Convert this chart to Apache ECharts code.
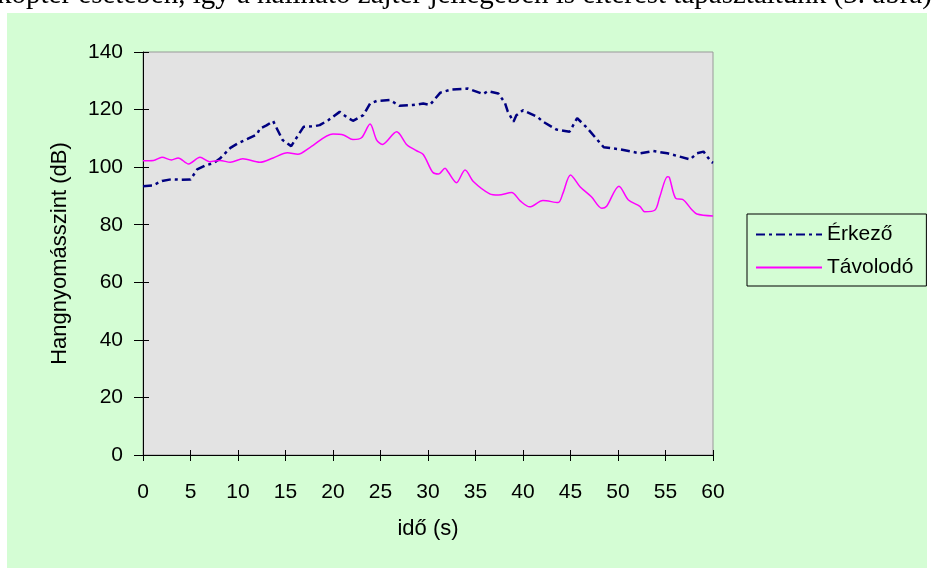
<!DOCTYPE html>
<html>
<head>
<meta charset="utf-8">
<script src="https://cdn.jsdelivr.net/npm/echarts@6/dist/echarts.min.js"></script>
<style>
  html, body { margin: 0; padding: 0; background: #fff; }
  #chart { width: 932px; height: 570px; }
</style>
</head>
<body>
<div id="chart"></div>
<script>
// Érkező (arriving) - time (s) and level (dB)
const erkezoT = [0, 1, 2, 3, 4, 5, 5.7, 6.5, 7.5, 8.1, 9.2, 10, 11, 12, 12.3, 13, 13.7, 14.7, 15.6, 16.9,
  18, 18.6, 19.5, 20.7, 21.4, 22.1, 23.2, 23.9, 24.6, 26, 27, 28.4, 29.5, 30.2, 31.3, 32.5, 34.2, 35.8,
  36.3, 37.4, 38.1, 38.4, 39, 39.3, 40, 41.5, 42.1, 43.5, 44.9, 45.7, 46.7, 48.5, 50.2, 52.3, 53.7,
  55.2, 57.6, 58.3, 59, 59.8, 60]
const erkezoDb = [93.4, 93.6, 95.2, 95.8, 95.6, 95.7, 99.2, 100.5, 101.5, 103, 106.7, 108.3, 109.8, 111.4,
  113.4, 114.5, 116, 109.4, 107.3, 114, 114.2, 114.6, 116.3, 119.2, 117.5, 116.1, 118.1, 122.1, 123,
  123.3, 121.3, 121.6, 122.1, 121.6, 125.9, 127, 127.3, 125.4, 126.4, 125.6, 122.3, 119.3, 115.8, 118,
  119.8, 117.5, 115.8, 113.1, 112.3, 117, 113.8, 106.9, 106.2, 104.8, 105.6, 104.8, 102.7, 104.8, 105.4,
  101.9, 101.5]

// Távolodó (departing)
const tavolodoT = [0, 1.1, 2, 3, 3.7, 4.8, 6, 7, 8.1, 9.2, 10.5, 12.3, 13.7, 15.2, 16.3, 17.6, 20, 21.1,
  22.1, 23, 23.9, 24.6, 25.2, 26.7, 27.8, 28.8, 29.5, 30.5, 31.1, 31.8, 32.1, 33, 33.9, 34.8, 36.5, 37.4,
  38.8, 39.7, 40.7, 42.1, 43.7, 44.2, 45, 46, 47.2, 48.3, 48.8, 50.1, 51.1, 52.3, 52.8, 53.9, 54.4, 55.2,
  55.4, 56.1, 56.8, 57.8, 58.3, 60]
const tavolodoDb = [102.2, 102.3, 103.4, 102.5, 103.2, 101.1, 103.4, 101.9, 102.3, 101.7, 102.9, 101.7,
  103.2, 105, 104.5, 106.9, 111.5, 111.2, 109.6, 110.2, 115, 109.4, 107.9, 112.3, 107.7, 105.7, 104.4,
  98.2, 97.6, 99.6, 98.4, 94.6, 99, 94.9, 90.7, 90.3, 91.2, 88.3, 86.2, 88.4, 87.7, 90.9, 97.3, 93.2,
  89.7, 85.7, 86.4, 93.4, 88.6, 86.4, 84.5, 85.1, 89.7, 96.7, 96.5, 89.1, 88.8, 85.1, 83.7, 83]

const pairs = (ts, vs) => ts.map((t, i) => [t, vs[i]])

const chart = echarts.init(document.getElementById('chart'))
const font = 'Liberation Sans, Arial, sans-serif'

chart.setOption({
  animation: false,
  graphic: [
    {
      type: 'rect',
      z: -10,
      shape: { x: 7, y: 13, width: 920, height: 555 },
      style: { fill: '#d4fdd4' },
    },
    {
      type: 'text',
      z: -5,
      x: -3,
      y: 10,
      style: {
        text: 'kopter esetében, így a hallható zajtér jellegében is eltérést tapasztaltunk (3. ábra)',
        font: '29px "Liberation Serif", "Times New Roman", serif',
        fill: '#000',
        verticalAlign: 'bottom',
      },
    },
  ],
  grid: {
    left: 143,
    right: 219,
    top: 52,
    bottom: 115,
    show: true,
    backgroundColor: '#e3e3e3',
    borderColor: '#999',
    borderWidth: 1,
  },
  legend: {
    orient: 'vertical',
    left: 747,
    top: 214,
    padding: [10, 13, 8, 8],
    itemWidth: 66,
    itemHeight: 14,
    itemGap: 12,
    borderColor: '#000',
    borderWidth: 1,
    itemStyle: { opacity: 0 },
    textStyle: { fontFamily: font, fontSize: 21, color: '#000' },
    data: ['Érkező', 'Távolodó'],
  },
  xAxis: [
    {
      type: 'value',
      min: 0,
      max: 60,
      interval: 5,
      name: 'idő (s)',
      nameLocation: 'middle',
      nameGap: 63,
      nameTextStyle: { fontFamily: font, fontSize: 22, color: '#000' },
      axisLine: { lineStyle: { color: '#000', width: 1 } },
      axisTick: { length: 6, lineStyle: { color: '#000' } },
      axisLabel: { fontFamily: font, fontSize: 21, color: '#000', margin: 27 },
      splitLine: { show: false },
    },
    {
      type: 'value',
      min: 0,
      max: 60,
      interval: 5,
      position: 'bottom',
      axisLine: { show: false },
      axisTick: { inside: true, length: 5, lineStyle: { color: '#000' } },
      axisLabel: { show: false },
      splitLine: { show: false },
    },
  ],
  yAxis: [
    {
      type: 'value',
      min: 0,
      max: 140,
      interval: 20,
      name: 'Hangnyomásszint (dB)',
      nameLocation: 'middle',
      nameGap: 72,
      nameTextStyle: { fontFamily: font, fontSize: 22, color: '#000' },
      axisLine: { show: true, lineStyle: { color: '#000', width: 1 } },
      axisTick: { show: true, length: 9, lineStyle: { color: '#000' } },
      axisLabel: { fontFamily: font, fontSize: 21, color: '#000', margin: 20 },
      splitLine: { show: false },
    },
    {
      type: 'value',
      min: 0,
      max: 140,
      interval: 20,
      position: 'left',
      axisLine: { show: false },
      axisTick: { show: true, inside: true, length: 6, lineStyle: { color: '#000' } },
      axisLabel: { show: false },
      splitLine: { show: false },
    },
  ],
  series: [
    {
      name: 'Érkező',
      type: 'line',
      symbol: 'none',
      data: pairs(erkezoT, erkezoDb),
      lineStyle: { color: '#000080', width: 2.5, type: [9, 4, 3, 4] },
      itemStyle: { color: '#000080' },
    },
    {
      name: 'Távolodó',
      type: 'line',
      symbol: 'none',
      smooth: 0.3,
      data: pairs(tavolodoT, tavolodoDb),
      lineStyle: { color: '#ff00ff', width: 1.5 },
      itemStyle: { color: '#ff00ff' },
    },
  ],
})
</script>
</body>
</html>
